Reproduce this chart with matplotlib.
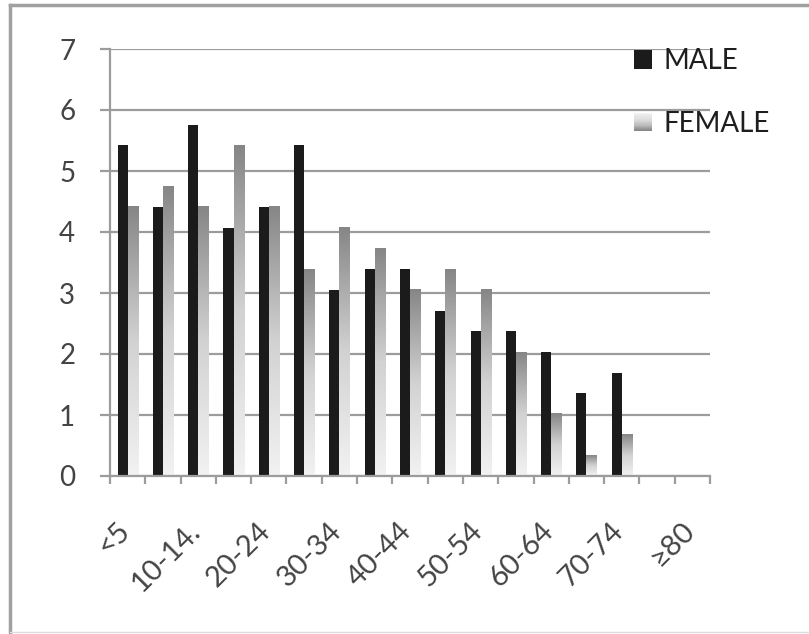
import numpy as np
import matplotlib
matplotlib.use("Agg")
import matplotlib.pyplot as plt
from matplotlib.colors import LinearSegmentedColormap
from matplotlib.legend_handler import HandlerBase
from matplotlib.patches import Rectangle
from matplotlib.lines import Line2D
import matplotlib.transforms as mtransforms

# Age-group distribution (%) by sex
age_groups = ['<5', '5-9', '10-14.', '15-19', '20-24', '25-29', '30-34', '35-39',
              '40-44', '45-49', '50-54', '55-59', '60-64', '65-69', '70-74',
              '75-79', '≥80']
male = [5.42, 4.41, 5.76, 4.07, 4.41, 5.42, 3.05, 3.39, 3.39, 2.71, 2.37,
        2.37, 2.03, 1.36, 1.69, 0.0, 0.0]
female = [4.41, 4.75, 4.41, 5.42, 4.41, 3.39, 4.07, 3.73, 3.05, 3.39, 3.05,
          2.03, 1.02, 0.34, 0.68, 0.0, 0.0]
y_ticks = [0, 1, 2, 3, 4, 5, 6, 7]

plt.rcParams['font.family'] = ['Lato', 'DejaVu Sans']

W, H = 809, 634
fig = plt.figure(figsize=(W / 100, H / 100), dpi=100)
fig.patch.set_facecolor('white')

ax = fig.add_axes([110 / W, 1 - 476 / H, 600 / W, 427 / H])

grid_col = '#9c9c9c'
text_col = '#444444'
male_col = '#1b1b1b'
fem_cmap = LinearSegmentedColormap.from_list('fem', ['#f2f2f2', '#d2d2d2', '#868686'])

n = len(age_groups)
x = np.arange(n)
bw = 1 / 3.5

ax.bar(x - bw / 2, male, width=bw, color=male_col, zorder=3)

# female bars with vertical gradient fill
grad = np.linspace(0, 1, 256).reshape(-1, 1)
for xi, v in zip(x, female):
    if v <= 0:
        continue
    ax.imshow(grad, extent=(xi, xi + bw, 0, v), origin='lower', aspect='auto',
              cmap=fem_cmap, vmin=0, vmax=1, interpolation='bilinear', zorder=3)

ax.set_xlim(-0.5, n - 0.5)
ax.set_ylim(0, 7)

# grid and axes
ax.set_yticks(y_ticks)
ax.yaxis.grid(True, color=grid_col, linewidth=1.6, zorder=0)
ax.set_axisbelow(True)
for s in ['top', 'right']:
    ax.spines[s].set_visible(False)
for s in ['left', 'bottom']:
    ax.spines[s].set_color(grid_col)
    ax.spines[s].set_linewidth(1.6)
    ax.spines[s].set_zorder(4)

ax.tick_params(axis='y', length=7, width=1.6, color=grid_col, pad=18,
               labelsize=20, labelcolor=text_col)

# category boundary ticks and every-other category label
ax.set_xticks(np.arange(-0.5, n, 1.0))
ax.set_xticklabels([])
ax.tick_params(axis='x', which='major', length=6, width=1.6, color=grid_col,
               direction='out')
ax.set_xticks(x, minor=True)
ax.set_xticklabels([lab if i % 2 == 0 else '' for i, lab in enumerate(age_groups)],
                   minor=True)
ax.tick_params(axis='x', which='minor', length=0, pad=30, labelsize=21,
               labelcolor=text_col)
offset = mtransforms.ScaledTranslation(7 / 100, 0, fig.dpi_scale_trans)
for lab in ax.get_xticklabels(minor=True):
    lab.set_rotation(45)
    lab.set_ha('right')
    lab.set_va('top')
    lab.set_transform(lab.get_transform() + offset)


class GradientHandler(HandlerBase):
    def create_artists(self, legend, orig_handle, xdescent, ydescent, width,
                       height, fontsize, trans):
        steps = 16
        arts = []
        for k in range(steps):
            c = fem_cmap(1 - k / (steps - 1))
            r = Rectangle((-xdescent, -ydescent + height * k / steps), width,
                          height / steps, facecolor=c, edgecolor='none',
                          transform=trans)
            arts.append(r)
        return arts


male_handle = Rectangle((0, 0), 1, 1, facecolor=male_col, edgecolor='none')
fem_handle = Rectangle((0, 0), 1, 1, facecolor='#b0b0b0', edgecolor='none')
leg = fig.legend([male_handle, fem_handle], ['MALE', 'FEMALE'],
                 loc='upper left', bbox_to_anchor=(634 / W, 1 - 48 / H),
                 frameon=False, fontsize=20, borderpad=0, borderaxespad=0,
                 handlelength=0.65, handleheight=0.65, handletextpad=0.4,
                 labelspacing=1.33,
                 handler_map={fem_handle: GradientHandler()})
for t in leg.get_texts():
    t.set_color('#1e1e1e')

# outer frame
frame_col = '#a0a0a0'
fig.add_artist(Line2D([10 / W, 1], [1 - 5 / H, 1 - 5 / H], color=frame_col,
                      linewidth=2.5, transform=fig.transFigure))
fig.add_artist(Line2D([10 / W, 10 / W], [0, 1 - 5 / H], color=frame_col,
                      linewidth=2.5, transform=fig.transFigure))
fig.add_artist(Line2D([10 / W, 1], [1 - 632 / H, 1 - 632 / H], color='#dddddd',
                      linewidth=1.0, transform=fig.transFigure))

fig.savefig('out.png', dpi=100)
